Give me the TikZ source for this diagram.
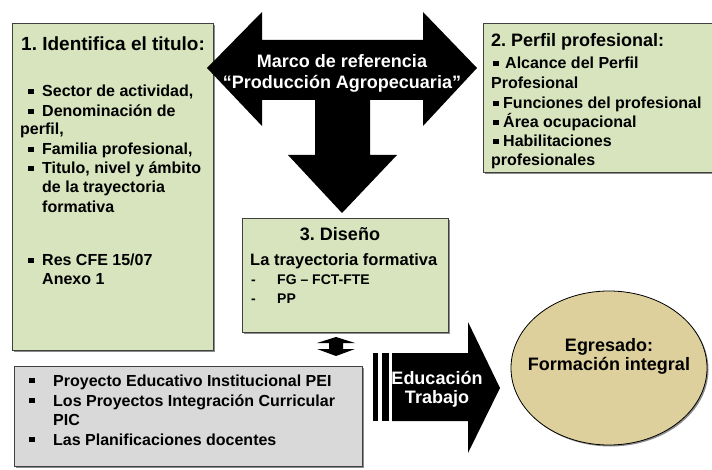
\documentclass[tikz,border=0pt]{standalone}
\usepackage{fontspec}
\setmainfont{Liberation Sans}
\usetikzlibrary{shadows,shapes.geometric}
\definecolor{boxgreen}{HTML}{D7E4BD}
\definecolor{boxgrey}{HTML}{D9D9D9}
\definecolor{egcol}{HTML}{DDD09C}
\frenchspacing
\newcommand\fTitle{\fontsize{19}{22}\selectfont\bfseries}
\newcommand\fItem{\fontsize{16}{19}\selectfont\bfseries}
\newcommand\fBig{\fontsize{18}{21}\selectfont\bfseries}
\newcommand\fMid{\fontsize{16.5}{19}\selectfont\bfseries}
\newcommand\fSmall{\fontsize{14}{17}\selectfont\bfseries}
\begin{document}
\begin{tikzpicture}[x=1pt,y=-1pt,
  shad/.style={general shadow={fill=black!45, shadow xshift=1.5pt, shadow yshift=-1.5pt}},
  gbox/.style={shad, draw=black!75, line width=0.8pt, fill=boxgreen, inner sep=0pt, anchor=north west, rectangle},
  greybox/.style={shad, draw=black!75, line width=0.8pt, fill=boxgrey, inner sep=0pt, anchor=north west, rectangle},
  txt/.style={anchor=base west, inner sep=0pt, font=\fItem},
  ctxt/.style={anchor=base, inner sep=0pt},
  bul/.style={rectangle, fill=black, inner sep=0pt, minimum size=5.5pt},
  blk/.style={fill=black, draw=none}]
\useasboundingbox (0,0) rectangle (712,470);
\clip (0,0) rectangle (712,470);

% boxes
\node[gbox, minimum width=201pt, minimum height=327pt] (box1) at (12,23) {};
\node[gbox, minimum width=232pt, minimum height=149pt] (box2) at (483,23) {};
\node[gbox, minimum width=206pt, minimum height=114pt] (box3) at (242,218) {};
\node[greybox, minimum width=348pt, minimum height=100pt] (box4) at (14,366) {};
\node[shad, ellipse, draw=black, line width=0.8pt, fill=egcol, minimum width=196pt, minimum height=154pt, inner sep=0pt] (egr) at (609,368) {};

% big T arrow
\path[blk] (207,68) -- (262,12) -- (262,40) -- (423,40) -- (423,12) -- (477,68)
  -- (423,126) -- (423,100) -- (370,100) -- (370,155) -- (397,155) -- (342,213)
  -- (288,155) -- (315,155) -- (315,100) -- (262,100) -- (262,126) -- cycle;
\node[ctxt, text=white, font=\fBig] (marco1) at (342,68) {Marco de referencia};
\node[ctxt, text=white, font=\fBig] (marco2) at (342,89) {“Producción Agropecuaria”};

% small up-down arrow
\path[blk] (317,343) -- (336,337) -- (355,343) -- (343,343) -- (343,349) -- (355,349)
  -- (336,356) -- (317,349) -- (329,349) -- (329,343) -- cycle;

% Educacion Trabajo arrow
\path[blk] (373,353) rectangle (378,421);
\path[blk] (382,353) rectangle (389,421);
\path[blk] (392,353) -- (468,353) -- (468,322) -- (500,388) -- (468,453) -- (468,421) -- (392,421) -- cycle;
\node[ctxt, text=white, font=\fBig] (edu1) at (437,384) {Educación};
\node[ctxt, text=white, font=\fBig] (edu2) at (437,403) {Trabajo};

% box 1 text
\node[txt, font=\fTitle] (t1) at (21,51) {1. Identifica el titulo:};
\node[bul] (b11) at (31,91.5) {};
\node[txt] (t11) at (42,97) {Sector de actividad,};
\node[bul] (b12) at (31,111.5) {};
\node[txt] (t12) at (42,117) {Denominación de};
\node[txt] (t13) at (20,135) {perfil,};
\node[bul] (b14) at (31,149.5) {};
\node[txt] (t14) at (42,155) {Familia profesional,};
\node[bul] (b15) at (31,168.5) {};
\node[txt] (t15) at (42,174) {Titulo, nivel y ámbito};
\node[txt] (t16) at (42,193) {de la trayectoria};
\node[txt] (t17) at (42,213) {formativa};
\node[bul] (b18) at (31,260.5) {};
\node[txt] (t18) at (42,266) {Res CFE 15/07};
\node[txt] (t19) at (42,284) {Anexo 1};

% box 2 text
\node[txt, font=\fBig] (t2) at (491,47) {2. Perfil profesional:};
\node[bul] (b21) at (496,63.5) {};
\node[txt] (t21) at (505,69) {Alcance del Perfil};
\node[txt] (t22) at (491,89) {Profesional};
\node[bul] (b23) at (496,103.5) {};
\node[txt] (t23) at (503,109) {Funciones del profesional};
\node[bul] (b24) at (496,122.5) {};
\node[txt] (t24) at (503,128) {Área ocupacional};
\node[bul] (b25) at (496,141.5) {};
\node[txt] (t25) at (503,147) {Habilitaciones};
\node[txt] (t26) at (491,166) {profesionales};

% box 3 text
\node[ctxt, font=\fBig] (t3) at (340,241) {3. Diseño};
\node[txt, font=\fMid] (t31) at (250,266) {La trayectoria formativa};
\node[txt, font=\fSmall] (d32) at (251,285) {-};
\node[txt, font=\fSmall] (t32) at (277,285) {FG – FCT-FTE};
\node[txt, font=\fSmall] (d33) at (251,304) {-};
\node[txt, font=\fSmall] (t33) at (277,304) {PP};

% grey box text
\node[bul] (b41) at (32,380.5) {};
\node[txt] (t41) at (53,386) {Proyecto Educativo Institucional PEI};
\node[bul] (b42) at (32,400.5) {};
\node[txt] (t42) at (53,406) {Los Proyectos Integración Curricular};
\node[txt] (t43) at (53,425) {PIC};
\node[bul] (b44) at (32,439.5) {};
\node[txt] (t44) at (53,445) {Las Planificaciones docentes};

% ellipse text
\node[ctxt, font=\fBig] (e1) at (609,351) {Egresado:};
\node[ctxt, font=\fBig] (e2) at (609,370) {Formación integral};
\end{tikzpicture}
\end{document}
